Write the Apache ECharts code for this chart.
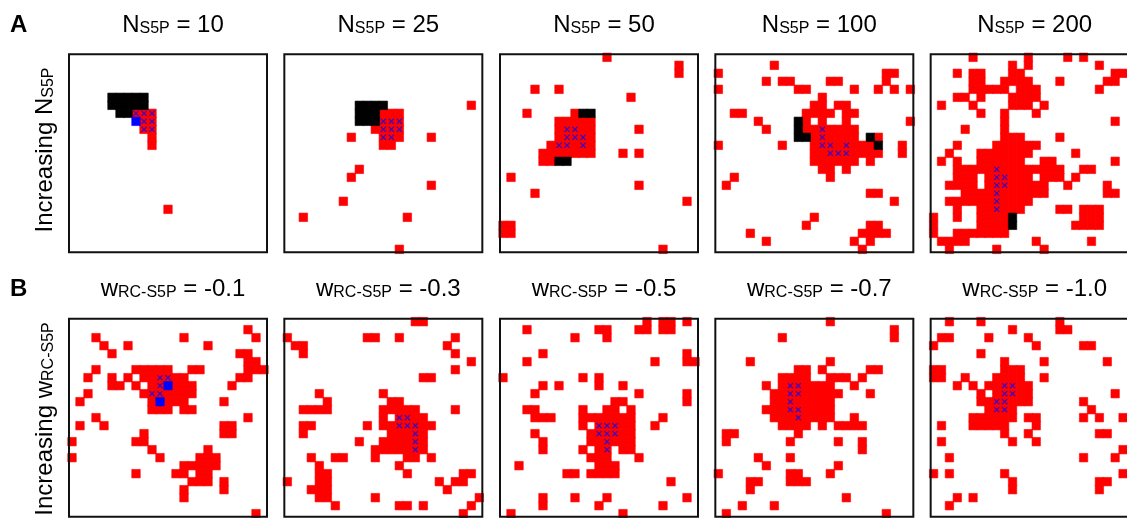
<!DOCTYPE html>
<html>
<head>
<meta charset="utf-8">
<script src="https://cdn.jsdelivr.net/npm/echarts@6/dist/echarts.min.js"></script>
<style>
  html, body { margin: 0; padding: 0; background: #fff; }
  #chart { width: 1127px; height: 518px; }
</style>
</head>
<body>
<div id="chart"></div>
<script>
// Lattice size of every panel (25 x 25 sites)
const GRID_N = 25;

// Column titles
const titleValuesA = ['10', '25', '50', '100', '200'];
const titleValuesB = ['-0.1', '-0.3', '-0.5', '-0.7', '-1.0'];

// Occupied sites as runs: [row, firstCol, lastCol, kind]
// kind: 'r' red, 'k' black, 'b' blue, 'x' red site carrying a blue cross
const cellsA1 = [
  [5,5,9,'k'],[6,5,9,'k'],[7,6,7,'k'],[7,8,10,'x'],[8,8,8,'b'],[8,9,10,'x'],
  [9,9,10,'x'],[10,10,10,'r'],[11,10,10,'r'],[19,12,12,'r']
];
const cellsA2 = [
  [6,9,12,'k'],[6,23,23,'r'],[7,9,11,'k'],[7,12,14,'r'],[8,9,11,'k'],[8,12,14,'x'],
  [9,11,11,'r'],[9,12,14,'x'],[10,8,8,'r'],[10,12,13,'x'],[10,14,14,'r'],[10,18,18,'r'],
  [11,12,13,'r'],[14,9,9,'r'],[15,8,8,'r'],[16,18,18,'r'],[18,7,7,'r'],[20,2,2,'r'],
  [20,15,15,'r'],[24,14,14,'r']
];
const cellsA3 = [
  [0,13,13,'r'],[1,22,22,'r'],[2,22,22,'r'],[4,4,4,'r'],[4,7,7,'r'],[5,16,16,'r'],
  [7,3,3,'r'],[7,9,9,'r'],[7,10,11,'k'],
  [8,7,11,'r'],
  [9,7,7,'r'],[9,8,9,'x'],[9,10,11,'r'],[9,17,17,'r'],
  [10,7,7,'r'],[10,8,10,'x'],[10,11,11,'r'],
  [11,6,6,'r'],[11,7,8,'x'],[11,9,9,'r'],[11,10,10,'x'],[11,11,11,'r'],
  [12,5,11,'r'],[12,15,15,'r'],[12,17,17,'r'],
  [13,5,6,'r'],[13,7,8,'k'],
  [15,1,1,'r'],[16,17,17,'r'],[17,4,4,'r'],[18,23,23,'r'],
  [21,0,1,'r'],[22,0,1,'r'],[24,20,20,'r']
];
const cellsA4 = [
  [1,7,7,'r'],
  [2,0,0,'r'],[2,21,22,'r'],
  [3,6,6,'r'],[3,8,9,'r'],[3,14,15,'r'],[3,21,21,'r'],
  [4,0,0,'r'],[4,10,11,'r'],[4,17,17,'r'],[4,20,20,'r'],[4,22,22,'r'],[4,24,24,'r'],
  [5,13,13,'r'],
  [6,12,13,'r'],[6,15,16,'r'],
  [7,2,3,'r'],[7,11,14,'r'],[7,16,17,'r'],
  [8,5,5,'r'],[8,10,10,'k'],[8,11,11,'r'],[8,13,13,'r'],[8,16,16,'r'],[8,24,24,'r'],
  [9,6,6,'r'],[9,10,10,'k'],[9,11,12,'r'],[9,13,13,'x'],[9,14,17,'r'],
  [10,10,11,'k'],[10,12,12,'r'],[10,13,13,'x'],[10,14,17,'r'],[10,19,19,'k'],[10,20,20,'r'],
  [11,0,0,'r'],[11,8,8,'r'],[11,12,12,'r'],[11,13,14,'x'],[11,15,15,'r'],[11,16,16,'x'],
  [11,17,19,'r'],[11,20,20,'k'],[11,23,23,'r'],
  [12,12,13,'r'],[12,14,16,'x'],[12,17,20,'r'],[12,23,23,'r'],
  [13,12,17,'r'],[13,19,19,'r'],
  [14,13,14,'r'],[14,16,16,'r'],
  [15,2,2,'r'],[15,14,14,'r'],
  [16,1,1,'r'],[17,19,20,'r'],[18,22,22,'r'],[20,12,12,'r'],
  [21,11,11,'r'],[21,19,20,'r'],
  [22,4,4,'r'],[22,18,21,'r'],
  [23,6,6,'r'],[23,17,17,'r'],[23,19,19,'r'],
  [24,18,18,'r']
];
const cellsA5 = [
  [0,5,5,'r'],[0,12,12,'r'],[0,17,17,'r'],[0,19,19,'r'],
  [1,10,10,'r'],[1,12,12,'r'],[1,21,21,'r'],
  [2,3,3,'r'],[2,5,6,'r'],[2,10,11,'r'],[2,23,24,'r'],
  [3,5,6,'r'],[3,9,12,'r'],[3,16,16,'r'],[3,22,23,'r'],
  [4,5,9,'r'],[4,11,13,'r'],[4,21,21,'r'],
  [5,3,4,'r'],[5,6,6,'r'],[5,10,13,'r'],
  [6,1,1,'r'],[6,5,5,'r'],[6,10,12,'r'],[6,14,14,'r'],
  [7,6,6,'r'],[7,9,9,'r'],[7,13,13,'r'],
  [8,9,9,'r'],[8,23,23,'r'],
  [9,4,4,'r'],[9,9,9,'r'],
  [10,9,11,'r'],[10,16,16,'r'],
  [11,3,3,'r'],[11,8,13,'r'],
  [12,2,2,'r'],[12,6,12,'r'],[12,18,18,'r'],
  [13,1,1,'r'],[13,3,3,'r'],[13,6,11,'r'],[13,14,15,'r'],[13,23,23,'r'],
  [14,3,7,'r'],[14,8,8,'x'],[14,9,16,'r'],[14,19,20,'r'],
  [15,3,5,'r'],[15,7,7,'r'],[15,8,9,'x'],[15,10,12,'r'],[15,14,16,'r'],[15,18,18,'r'],
  [16,2,5,'r'],[16,7,7,'r'],[16,8,9,'x'],[16,10,14,'r'],[16,17,17,'r'],[16,22,22,'r'],
  [17,4,7,'r'],[17,8,8,'x'],[17,9,14,'r'],[17,22,23,'r'],
  [18,2,7,'r'],[18,8,8,'x'],[18,9,12,'r'],
  [19,3,3,'r'],[19,6,7,'r'],[19,8,8,'x'],[19,9,11,'r'],[19,16,17,'r'],[19,19,21,'r'],
  [20,0,0,'r'],[20,3,3,'r'],[20,6,9,'r'],[20,10,10,'k'],[20,19,21,'r'],
  [21,0,0,'r'],[21,6,9,'r'],[21,10,10,'k'],[21,18,21,'r'],
  [22,0,0,'r'],[22,3,9,'r'],
  [23,1,4,'r'],[23,13,13,'r'],[23,20,20,'r'],
  [24,2,2,'r'],[24,8,8,'r'],[24,14,14,'r']
];
const cellsB1 = [
  [1,22,22,'r'],
  [2,3,3,'r'],[2,14,14,'r'],[2,23,23,'r'],
  [3,4,4,'r'],[3,7,7,'r'],[3,17,17,'r'],
  [4,5,5,'r'],[4,21,22,'r'],
  [5,22,23,'r'],
  [6,3,3,'r'],[6,8,12,'r'],[6,15,16,'r'],[6,22,24,'r'],
  [7,2,2,'r'],[7,5,5,'r'],[7,7,7,'r'],[7,9,10,'r'],[7,11,12,'x'],[7,13,14,'r'],[7,21,22,'r'],
  [8,5,6,'r'],[8,8,8,'r'],[8,10,10,'r'],[8,11,11,'x'],[8,12,12,'b'],[8,13,15,'r'],[8,20,20,'r'],
  [9,2,2,'r'],[9,9,9,'r'],[9,10,11,'x'],[9,12,15,'r'],
  [10,1,1,'r'],[10,10,10,'r'],[10,11,11,'b'],[10,12,14,'r'],[10,19,19,'r'],
  [11,10,12,'r'],[11,14,15,'r'],
  [12,3,3,'r'],[12,22,22,'r'],
  [13,1,1,'r'],[13,4,4,'r'],[13,19,20,'r'],
  [14,9,9,'r'],[14,19,20,'r'],
  [15,0,0,'r'],[15,8,9,'r'],
  [16,10,10,'r'],[16,17,17,'r'],
  [17,0,0,'r'],[17,11,11,'r'],[17,16,18,'r'],
  [18,14,18,'r'],
  [19,8,8,'r'],[19,13,14,'r'],[19,16,17,'r'],
  [20,15,17,'r'],[20,19,19,'r'],
  [21,14,14,'r'],[21,19,19,'r'],
  [22,14,14,'r'],
  [24,23,23,'r']
];
const cellsB2 = [
  [0,16,17,'r'],
  [2,0,0,'r'],[2,10,11,'r'],[2,14,14,'r'],[2,21,21,'r'],
  [3,1,2,'r'],[3,20,20,'r'],
  [4,2,2,'r'],[4,21,21,'r'],
  [5,23,23,'r'],[6,21,21,'r'],[7,17,18,'r'],
  [9,4,4,'r'],[9,12,12,'r'],
  [10,5,5,'r'],[10,13,14,'r'],
  [11,2,5,'r'],[11,12,16,'r'],[11,21,21,'r'],
  [12,12,12,'r'],[12,14,15,'x'],[12,16,17,'r'],
  [13,2,3,'r'],[13,10,10,'r'],[13,12,13,'r'],[13,14,16,'x'],[13,17,18,'r'],
  [14,2,2,'r'],[14,13,15,'r'],[14,16,16,'x'],[14,17,17,'r'],
  [15,9,9,'r'],[15,12,15,'r'],[15,16,16,'x'],[15,17,17,'r'],
  [16,11,15,'r'],[16,16,16,'x'],[16,17,17,'r'],
  [17,3,3,'r'],[17,6,7,'r'],[17,11,11,'r'],[17,15,16,'r'],[17,18,18,'r'],
  [18,4,4,'r'],[18,14,14,'r'],
  [19,4,5,'r'],[19,15,15,'r'],[19,22,23,'r'],
  [20,0,0,'r'],[20,4,5,'r'],[20,19,19,'r'],[20,21,22,'r'],
  [21,3,5,'r'],[21,20,20,'r'],
  [22,4,5,'r'],[22,11,11,'r'],[22,24,24,'r'],
  [23,6,6,'r'],[23,14,15,'r'],[23,17,17,'r'],[23,23,23,'r'],
  [24,22,22,'r']
];
const cellsB3 = [
  [0,18,18,'r'],[0,20,21,'r'],[0,23,23,'r'],
  [1,3,3,'r'],[1,12,13,'r'],[1,17,18,'r'],[1,20,21,'r'],
  [2,9,9,'r'],[2,13,13,'r'],
  [4,5,5,'r'],[4,23,23,'r'],
  [5,3,3,'r'],[5,19,19,'r'],[5,23,24,'r'],
  [7,0,0,'r'],[7,10,10,'r'],[7,12,12,'r'],
  [8,5,5,'r'],[8,7,7,'r'],[8,12,12,'r'],[8,15,15,'r'],
  [9,4,4,'r'],[9,17,17,'r'],[9,23,23,'r'],
  [10,14,15,'r'],[10,23,23,'r'],
  [11,3,4,'r'],[11,10,10,'r'],[11,13,14,'r'],[11,16,16,'r'],
  [12,4,6,'r'],[12,10,16,'r'],[12,20,20,'r'],
  [13,10,10,'r'],[13,12,14,'x'],[13,15,16,'r'],[13,19,19,'r'],
  [14,4,4,'r'],[14,11,11,'r'],[14,12,14,'x'],[14,15,16,'r'],
  [15,5,5,'r'],[15,11,12,'r'],[15,13,13,'x'],[15,14,16,'r'],
  [16,5,5,'r'],[16,10,10,'r'],[16,12,12,'r'],[16,13,13,'x'],[16,15,16,'r'],
  [17,11,13,'r'],[17,17,17,'r'],
  [18,2,2,'r'],[18,12,14,'r'],
  [19,8,9,'r'],[19,11,14,'r'],
  [20,21,21,'r'],
  [22,5,5,'r'],[22,9,9,'r'],[22,13,13,'r'],[22,23,23,'r'],
  [23,5,5,'r'],[23,12,12,'r'],[23,20,20,'r'],
  [24,1,1,'r'],[24,15,15,'r']
];
const cellsB4 = [
  [0,14,14,'r'],
  [1,22,22,'r'],
  [2,8,8,'r'],[2,22,22,'r'],
  [5,4,4,'r'],[5,14,14,'r'],
  [6,10,11,'r'],[6,13,13,'r'],[6,19,20,'r'],
  [7,8,11,'r'],[7,14,16,'r'],[7,18,18,'r'],
  [8,6,6,'r'],[8,8,8,'r'],[8,9,10,'x'],[8,11,14,'r'],[8,17,17,'r'],
  [9,7,8,'r'],[9,9,10,'x'],[9,11,15,'r'],[9,19,19,'r'],
  [10,7,8,'r'],[10,9,9,'x'],[10,10,14,'r'],
  [11,6,8,'r'],[11,9,10,'x'],[11,11,14,'r'],
  [12,7,9,'r'],[12,10,10,'x'],[12,11,14,'r'],[12,17,17,'r'],
  [13,8,11,'r'],[13,13,13,'r'],[13,15,18,'r'],
  [14,1,2,'r'],[14,10,10,'r'],
  [15,1,1,'r'],[15,9,9,'r'],[15,15,15,'r'],[15,18,18,'r'],
  [16,18,18,'r'],
  [17,5,5,'r'],[17,9,9,'r'],
  [18,6,6,'r'],[18,15,15,'r'],
  [19,0,0,'r'],[19,9,10,'r'],[19,14,14,'r'],
  [20,4,5,'r'],[20,9,11,'r'],
  [21,4,4,'r'],[22,16,16,'r'],
  [23,3,3,'r'],[23,7,7,'r'],
  [24,1,1,'r'],[24,21,21,'r']
];
const cellsB5 = [
  [0,2,2,'r'],[0,6,6,'r'],[0,16,16,'r'],
  [1,10,10,'r'],[1,16,17,'r'],
  [2,1,2,'r'],[2,7,7,'r'],[2,12,12,'r'],
  [3,0,0,'r'],[3,13,13,'r'],[3,19,20,'r'],
  [4,6,6,'r'],
  [5,9,9,'r'],[5,14,14,'r'],[5,22,22,'r'],
  [6,0,1,'r'],[6,9,11,'r'],
  [7,0,1,'r'],[7,4,4,'r'],[7,8,11,'r'],[7,14,14,'r'],
  [8,3,3,'r'],[8,5,5,'r'],[8,7,8,'r'],[8,9,10,'x'],[8,11,12,'r'],
  [9,6,6,'r'],[9,8,8,'r'],[9,9,10,'x'],[9,11,12,'r'],[9,23,23,'r'],
  [10,6,7,'r'],[10,8,9,'x'],[10,10,12,'r'],[10,19,19,'r'],
  [11,7,7,'r'],[11,8,9,'x'],[11,10,10,'r'],[11,20,20,'r'],
  [12,5,10,'r'],[12,12,13,'r'],[12,19,19,'r'],[12,21,21,'r'],[12,24,24,'r'],
  [13,1,1,'r'],[13,5,9,'r'],[13,13,13,'r'],
  [14,9,9,'r'],[14,12,12,'r'],[14,21,22,'r'],
  [15,1,1,'r'],[15,10,10,'r'],[15,13,13,'r'],
  [16,24,24,'r'],
  [17,2,2,'r'],[17,19,19,'r'],[17,23,23,'r'],
  [19,0,0,'r'],[19,2,2,'r'],[19,9,9,'r'],[19,24,24,'r'],
  [20,10,10,'r'],[20,21,22,'r'],
  [21,10,10,'r'],[21,21,21,'r'],
  [22,3,3,'r'],[22,5,5,'r'],
  [23,2,2,'r']
];

const panelsA = [cellsA1, cellsA2, cellsA3, cellsA4, cellsA5];
const panelsB = [cellsB1, cellsB2, cellsB3, cellsB4, cellsB5];

// Page layout (pixels)
const PANEL_LEFT = [68, 283.33, 499, 714.33, 929.67];
const ROW_TOP = [53.33, 317.67];
const PANEL_SIZE = 200;
const TITLE_TOP = [8.5, 272];
const CAPTION_CENTER_Y = [150, 419];

const FONT = '"Liberation Sans", Arial, Helvetica, sans-serif';
const KIND_COLOR = { r: '#ff0000', k: '#000000', b: '#0000ff' };
const CROSS_PATH = 'path://M0,1.4L1.4,0L5,3.6L8.6,0L10,1.4L6.4,5L10,8.6L8.6,10L5,6.4L1.4,10L0,8.6L3.6,5Z';

const axisLabels = Array.from({ length: GRID_N }, (_, i) => String(i));

const grids = [], xAxes = [], yAxes = [], series = [], graphics = [], titles = [];

function addPanel(runs, row, col) {
  const idx = grids.length;
  const left = PANEL_LEFT[col], top = ROW_TOP[row];
  grids.push({ left, top, width: PANEL_SIZE, height: PANEL_SIZE, containLabel: false });
  xAxes.push({ type: 'category', gridIndex: idx, data: axisLabels, show: false });
  yAxes.push({ type: 'category', gridIndex: idx, data: axisLabels, inverse: true, show: false });

  const byKind = { r: [], k: [], b: [] };
  const crosses = [];
  runs.forEach(([r, c0, c1, kind]) => {
    for (let c = c0; c <= c1; c++) {
      const k = kind === 'x' ? 'r' : kind;
      byKind[k].push([c, r, 1]);
      if (kind === 'x') crosses.push([c, r]);
    }
  });
  Object.keys(byKind).forEach(k => {
    series.push({
      type: 'heatmap', xAxisIndex: idx, yAxisIndex: idx, data: byKind[k],
      itemStyle: { color: KIND_COLOR[k], borderColor: KIND_COLOR[k], borderWidth: 0.6 },
      silent: true, animation: false, emphasis: { disabled: true }
    });
  });
  series.push({
    type: 'scatter', xAxisIndex: idx, yAxisIndex: idx, data: crosses,
    symbol: CROSS_PATH, symbolSize: 6, itemStyle: { color: '#0a0af5' },
    silent: true, animation: false, z: 5
  });
  // panel frame drawn above the sites
  graphics.push({
    type: 'rect', z: 100, silent: true,
    shape: { x: left + 1, y: top + 1, width: PANEL_SIZE - 2, height: PANEL_SIZE - 2 },
    style: { fill: 'none', stroke: '#111', lineWidth: 2 }
  });
}

panelsA.forEach((p, i) => addPanel(p, 0, i));
panelsB.forEach((p, i) => addPanel(p, 1, i));

const richText = {
  m: { fontSize: 24, fontFamily: FONT, fontWeight: 'normal', color: '#000' },
  s: { fontSize: 16, fontFamily: FONT, fontWeight: 'normal', color: '#000', padding: [7, 0, 0, 0] }
};

titleValuesA.forEach((v, i) => {
  titles.push({
    text: '{m|N}{s|S5P}{m| = ' + v + '}',
    left: PANEL_LEFT[i] + PANEL_SIZE / 2, top: TITLE_TOP[0], textAlign: 'center',
    textStyle: { fontWeight: 'normal', rich: richText }
  });
});
titleValuesB.forEach((v, i) => {
  titles.push({
    text: '{m|w}{s|RC-S5P}{m| = ' + v + '}',
    left: PANEL_LEFT[i] + PANEL_SIZE / 2, top: TITLE_TOP[1], textAlign: 'center',
    textStyle: { fontWeight: 'normal', rich: richText }
  });
});

// Row letters
[['A', 25.5], ['B', 289.5]].forEach(([letter, y]) => {
  graphics.push({
    type: 'text', x: 10, y,
    style: { text: letter, font: 'bold 24px ' + FONT, fill: '#000', verticalAlign: 'middle' }
  });
});

// Rotated row captions
const rowCaptions = [
  '{m|Increasing N}{s|S5P}',
  '{m|Increasing w}{s|RC-S5P}'
];
rowCaptions.forEach((t, r) => {
  graphics.push({
    type: 'text', x: 45, y: CAPTION_CENTER_Y[r], rotation: Math.PI / 2,
    style: {
      text: t, align: 'center', verticalAlign: 'middle', fill: '#000',
      rich: richText
    }
  });
});

const chart = echarts.init(document.getElementById('chart'), null, { renderer: 'canvas' });
chart.setOption({
  animation: false,
  backgroundColor: '#fff',
  title: titles,
  grid: grids,
  xAxis: xAxes,
  yAxis: yAxes,
  series,
  graphic: { elements: graphics }
});
</script>
</body>
</html>
